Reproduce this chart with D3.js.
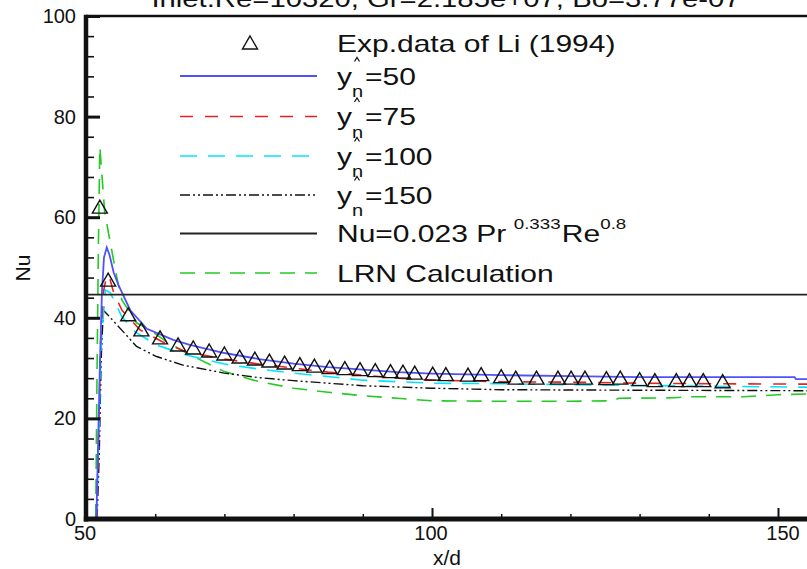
<!DOCTYPE html>
<html><head><meta charset="utf-8">
<script src="https://cdn.jsdelivr.net/npm/d3@7"></script>
<style>
body{margin:0;background:#fff;overflow:hidden}
svg{display:block}
text{font-family:"Liberation Sans",Arial,Helvetica,sans-serif;fill:#111}
</style>
</head><body>
<svg id="chart" width="807" height="569"></svg>
<script>
// ---------------- data ----------------
const titleText = "Inlet:Re=10320, Gr=2.185e+07, Bo=3.77e-07";
const xLabel = "x/d";
const yLabel = "Nu";
const xTickValues = [50, 100, 150];
const yTickValues = [0, 20, 40, 60, 80, 100];

const expX = [52.0, 53.2, 56.1, 58.0, 60.7, 63.3, 65.5, 67.8, 70.0, 72.2, 74.4, 76.5, 78.7, 80.9, 83.0, 85.2, 87.4, 89.6, 91.8, 94.0, 95.8, 97.5, 100.1, 102.0, 105.2, 107.1, 110.0, 112.1, 115.1, 118.2, 120.1, 122.1, 125.2, 127.2, 130.0, 132.2, 135.3, 137.2, 139.2, 142.0];
const expY = [62.0, 47.5, 40.6, 37.6, 36.0, 34.6, 34.0, 33.4, 32.8, 32.2, 31.8, 31.4, 31.0, 30.7, 30.4, 30.1, 29.9, 29.7, 29.5, 29.3, 29.2, 29.0, 28.8, 28.7, 28.6, 28.7, 28.3, 28.0, 28.0, 28.0, 28.0, 28.0, 27.9, 28.0, 27.7, 27.5, 27.5, 27.5, 27.5, 27.3];

const yn50X = [51.5, 51.7, 52.0, 52.3, 52.6, 53.0, 53.4, 54.0, 54.7, 56.4, 58.8, 62.6, 65, 70, 75, 80, 85, 90, 95, 100, 110, 120, 130, 140, 152.4, 152.6, 155];
const yn50Y = [0, 12, 30, 45, 52, 54, 52.5, 49, 46.5, 41.5, 37.8, 35.6, 34.6, 33.0, 31.8, 30.9, 30.2, 29.7, 29.2, 28.9, 28.6, 28.4, 28.2, 28.2, 28.2, 27.8, 27.8];

const yn75X = [51.5, 51.8, 52.1, 52.5, 53.0, 53.4, 54.0, 55.2, 57.8, 61.1, 64.5, 70, 75, 80, 85, 90, 95, 100, 110, 120, 130, 140, 155];
const yn75Y = [0, 15, 35, 45, 48.5, 48, 45, 41.5, 37.6, 35.2, 33.2, 31.8, 30.8, 30.0, 29.2, 28.6, 28.0, 27.6, 27.3, 27.2, 27.0, 26.9, 26.8];

const yn100X = [51.5, 51.8, 52.2, 52.8, 53.5, 55.2, 57.1, 60.2, 64.5, 70, 75, 80, 90, 100, 110, 120, 140, 155];
const yn100Y = [0, 14, 35, 45.5, 45, 40.2, 37.2, 34.6, 32.6, 30.8, 29.8, 29.0, 27.6, 27.0, 26.9, 26.7, 26.4, 26.2];

const yn150X = [51.6, 51.9, 52.2, 52.5, 53.2, 55.4, 57.3, 60.2, 64, 70, 75, 80, 90, 100, 110, 130, 155];
const yn150Y = [0, 12, 32, 41.5, 40.5, 37.2, 34.3, 32.3, 30.6, 29.0, 28.1, 27.5, 26.5, 26.0, 25.7, 25.6, 25.5];

const lrnX = [51.4, 51.6, 51.8, 52.0, 52.7, 53.5, 54.6, 55.2, 56.4, 57.3, 59.2, 61.7, 64.5, 70, 75, 80, 85, 90, 95, 100, 110, 120, 126, 127, 135, 137, 145, 150, 155];
const lrnY = [0, 30, 55, 74, 61, 55, 47, 43.5, 41, 39, 37.6, 35.2, 33.0, 29.3, 27.3, 26.0, 25.2, 24.5, 24.0, 23.5, 23.4, 23.4, 23.5, 24.0, 24.1, 24.3, 24.3, 24.7, 24.9];

const correlationNu = 44.6;

const legendLabels = ["Exp.data of Li (1994)", "=50", "=75", "=100", "=150", "Nu=0.023 Pr", "LRN Calculation"];

// ---------------- chart ----------------
const svg = d3.select("#chart");
const x = d3.scaleLinear().domain([50, 150]).range([86, 778]);
const y = d3.scaleLinear().domain([0, 100]).range([519, 16]);
const pL = x(50), pB = y(0), pT = y(100), pR = 807;

svg.append("defs").append("clipPath").attr("id", "plotclip")
  .append("rect").attr("x", pL).attr("y", pT).attr("width", pR - pL).attr("height", pB - pT);

// title (cut off at top, as in the reference)
svg.append("text").attr("transform", `translate(446,7) scale(1.22,1)`)
  .attr("text-anchor", "middle").style("font-size", "24px").text(titleText);

const plot = svg.append("g").attr("clip-path", "url(#plotclip)");
const line = d3.line().x(d => x(d[0])).y(d => y(d[1]));
const zipXY = (xs, ys) => xs.map((v, i) => [v, ys[i]]);

const series = [
  {xs: lrnX, ys: lrnY, color: "#22cc22", dash: "15,10", w: 1.6},
  {xs: yn150X, ys: yn150Y, color: "#111", dash: "10,3,2,3,2,3", w: 1.4},
  {xs: yn100X, ys: yn100Y, color: "#00e5ff", dash: "17,11", w: 1.6},
  {xs: yn75X, ys: yn75Y, color: "#e82020", dash: "13,12", w: 1.6},
  {xs: yn50X, ys: yn50Y, color: "#5050ff", dash: null, w: 1.8},
];
series.forEach(s => {
  plot.append("path").datum(zipXY(s.xs, s.ys)).attr("d", line)
    .attr("fill", "none").attr("stroke", s.color).attr("stroke-width", s.w)
    .attr("stroke-dasharray", s.dash);
});
// correlation line
plot.append("path").datum([[50, correlationNu], [160, correlationNu]]).attr("d", line)
  .attr("fill", "none").attr("stroke", "#222").attr("stroke-width", 1.8);

// experimental triangles
const tri = "M0,-7L7.5,6L-7.5,6Z";
plot.selectAll("path.exp").data(zipXY(expX, expY)).enter().append("path")
  .attr("class", "exp").attr("d", tri)
  .attr("transform", d => `translate(${x(d[0])},${y(d[1])})`)
  .attr("fill", "none").attr("stroke", "#111").attr("stroke-width", 1.4);

// axes frame
svg.append("line").attr("x1", pL).attr("x2", pR).attr("y1", pT).attr("y2", pT)
  .attr("stroke", "#111").attr("stroke-width", 2.5);
svg.append("line").attr("x1", pL).attr("x2", pL).attr("y1", pT - 1.2).attr("y2", pB + 2.5)
  .attr("stroke", "#111").attr("stroke-width", 4.5);
svg.append("line").attr("x1", pL - 2.2).attr("x2", pR).attr("y1", pB).attr("y2", pB)
  .attr("stroke", "#111").attr("stroke-width", 5);

// y ticks (inward)
const gy = svg.append("g").attr("transform", `translate(${pL},0)`)
  .call(d3.axisRight(y).tickValues(yTickValues).tickSize(14).tickFormat(""));
gy.select(".domain").remove();
gy.selectAll(".tick line").attr("stroke", "#111").attr("stroke-width", 3);
const yMinor = d3.range(4, 100, 4).filter(v => v % 20 !== 0);
const gym = svg.append("g").attr("transform", `translate(${pL},0)`)
  .call(d3.axisRight(y).tickValues(yMinor).tickSize(8).tickFormat(""));
gym.select(".domain").remove();
gym.selectAll(".tick line").attr("stroke", "#111").attr("stroke-width", 1.6);

// x ticks (inward, upward)
const gx = svg.append("g").attr("transform", `translate(0,${pB})`)
  .call(d3.axisTop(x).tickValues(xTickValues).tickSize(11).tickFormat(""));
gx.select(".domain").remove();
gx.selectAll(".tick line").attr("stroke", "#111").attr("stroke-width", 2);
const xMinor = d3.range(60, 160, 10).filter(v => v % 50 !== 0);
const gxm = svg.append("g").attr("transform", `translate(0,${pB})`)
  .call(d3.axisTop(x).tickValues(xMinor).tickSize(5).tickFormat(""));
gxm.select(".domain").remove();
gxm.selectAll(".tick line").attr("stroke", "#111").attr("stroke-width", 1.5);

// tick labels
svg.selectAll("text.ylab").data(yTickValues).enter().append("text")
  .attr("class", "ylab").attr("x", 76).attr("y", d => y(d) + 7)
  .attr("text-anchor", "end").style("font-size", "20px").text(d => d);
svg.selectAll("text.xlab").data(xTickValues).enter().append("text")
  .attr("class", "xlab").attr("x", d => x(d) + (d === 150 ? 5 : -1)).attr("y", 540)
  .attr("text-anchor", "middle").style("font-size", "20px").text(d => d);

// axis titles
svg.append("text").attr("x", 447).attr("y", 565).attr("text-anchor", "middle")
  .style("font-size", "21px").text(xLabel);
svg.append("text").attr("transform", "translate(30,268) rotate(-90)").attr("text-anchor", "middle")
  .style("font-size", "21px").text(yLabel);

// ---------------- legend ----------------
const lg = svg.append("g");
const lx0 = 180, lx1 = 317, tx = 337;
const rows = [43, 76, 116.5, 156, 195, 233.5, 273];
const lt = (px, py) => lg.append("text")
  .attr("transform", `translate(${px},${py}) scale(1.25,1)`).style("font-size", "24px");

lg.append("path").attr("d", tri).attr("transform", `translate(250,${rows[0]})`)
  .attr("fill", "none").attr("stroke", "#111").attr("stroke-width", 1.4);
lt(tx, rows[0] + 8.5).text(legendLabels[0]);

const legSeries = [series[4], series[3], series[2], series[1]];
legSeries.forEach((s, i) => {
  const ry = rows[i + 1];
  lg.append("line").attr("x1", lx0).attr("x2", lx1).attr("y1", ry).attr("y2", ry)
    .attr("stroke", s.color).attr("stroke-width", s.w).attr("stroke-dasharray", s.dash);
  const t = lt(tx, ry + 8.5);
  t.append("tspan").text("y");
  t.append("tspan").attr("dy", 12.5).style("font-size", "16px").text("n");
  t.append("tspan").attr("dy", -12.5).attr("dx", 1.5).text(legendLabels[i + 1]);
  // hat mark above the subscript
  lg.append("path").attr("d", `M354.5,${ry - 14.5}L357,${ry - 18.5}L359.5,${ry - 14.5}`)
    .attr("fill", "none").attr("stroke", "#111").attr("stroke-width", 1.2);
});
// correlation
lg.append("line").attr("x1", lx0).attr("x2", lx1).attr("y1", rows[5]).attr("y2", rows[5])
  .attr("stroke", "#222").attr("stroke-width", 1.8);
const tc = lt(tx, rows[5] + 8.5);
tc.append("tspan").text(legendLabels[5]);
tc.append("tspan").attr("dx", 6).attr("dy", -13).style("font-size", "15px").text("0.333");
tc.append("tspan").attr("dx", 1).attr("dy", 13).text("Re");
tc.append("tspan").attr("dy", -13).style("font-size", "15px").text("0.8");
// LRN
lg.append("line").attr("x1", lx0).attr("x2", lx1).attr("y1", rows[6]).attr("y2", rows[6])
  .attr("stroke", series[0].color).attr("stroke-width", series[0].w).attr("stroke-dasharray", series[0].dash);
lt(tx, rows[6] + 8.5).text(legendLabels[6]);
</script>
</body></html>
